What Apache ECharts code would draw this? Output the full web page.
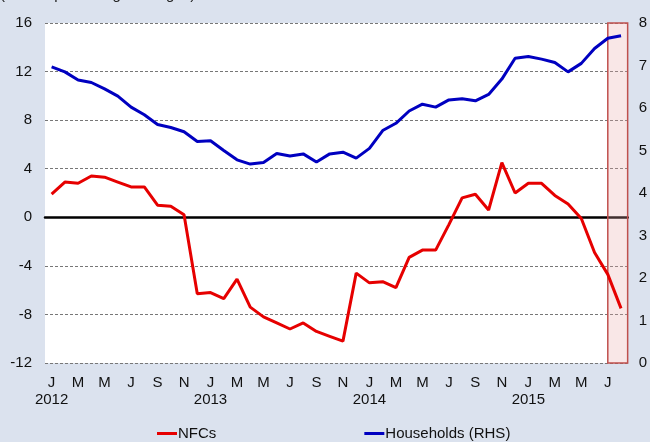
<!DOCTYPE html>
<html>
<head>
<meta charset="utf-8">
<script src="https://cdn.jsdelivr.net/npm/echarts@6/dist/echarts.min.js"></script>
<style>
  html, body { margin: 0; padding: 0; background: #dbe2ee; }
  #main { width: 650px; height: 442px; }
</style>
</head>
<body>
<div id="main"></div>
<script>
// monthly, Jan 2012 - Aug 2015
var months = [];
for (var y = 2012; y <= 2015; y++) {
  for (var m = 1; m <= 12; m++) {
    if (y === 2015 && m > 8) break;
    months.push(y + '-' + (m < 10 ? '0' + m : m));
  }
}
var monthLetters = ['J', 'F', 'M', 'A', 'M', 'J', 'J', 'A', 'S', 'O', 'N', 'D'];

// NFCs, left axis
var nfcs = [
  1.9, 2.9, 2.8, 3.4, 3.3, 2.9, 2.5, 2.5, 1.0, 0.9, 0.2, -6.3,
  -6.2, -6.7, -5.1, -7.4, -8.2, -8.7, -9.2, -8.7, -9.4, -9.8, -10.2, -4.6,
  -5.4, -5.3, -5.8, -3.3, -2.7, -2.7, -0.6, 1.6, 1.9, 0.6, 4.5, 2.0,
  2.8, 2.8, 1.8, 1.1, -0.1, -2.9, -4.7, -7.5
];
// Households, right axis
var households = [
  6.97, 6.85, 6.66, 6.60, 6.45, 6.28, 6.02, 5.84, 5.61, 5.54, 5.44, 5.21,
  5.23, 5.00, 4.78, 4.68, 4.72, 4.93, 4.87, 4.92, 4.73, 4.92, 4.96, 4.82,
  5.05, 5.47, 5.64, 5.93, 6.09, 6.02, 6.19, 6.22, 6.17, 6.32, 6.68, 7.17,
  7.21, 7.15, 7.07, 6.85, 7.05, 7.40, 7.64, 7.70
];

// shaded period: from Jul 2015 to the end of the axis
var shadeFrom = months.indexOf('2015-07') + 0.5;
var shadeTo = months.length;

var chart = echarts.init(document.getElementById('main'));
var font = '"Liberation Sans", Arial, sans-serif';

var option = {
  backgroundColor: '#dbe2ee',
  animation: false,
  textStyle: { fontFamily: font },
  title: {
    text: '(annual percentage changes)',
    left: 0,
    top: -13,
    padding: 0,
    textStyle: { fontSize: 15, fontWeight: 'normal', color: '#222', fontFamily: font }
  },
  grid: {
    left: 45, right: 19, top: 23, bottom: 79,
    show: true, backgroundColor: '#fff', borderWidth: 0
  },
  legend: {
    bottom: -4,
    left: 152,
    itemGap: 148,
    itemWidth: 20,
    itemHeight: 3,
    icon: 'rect',
    textStyle: { fontSize: 15, color: '#111', fontFamily: font, padding: [0, 0, 0, -4] },
    data: ['NFCs', 'Households (RHS)']
  },
  xAxis: [{
    type: 'category',
    data: months,
    boundaryGap: true,
    axisLine: { show: true, onZero: true, lineStyle: { color: '#000', width: 2.5 } },
    axisTick: { show: false },
    axisLabel: {
      interval: 1,
      margin: 11,
      fontSize: 15,
      lineHeight: 17,
      color: '#111',
      fontFamily: font,
      verticalAlign: 'top',
      formatter: function (v) {
        var parts = v.split('-');
        var mi = parseInt(parts[1], 10) - 1;
        return mi === 0 ? monthLetters[mi] + '\n' + parts[0] : monthLetters[mi];
      }
    },
    splitLine: { show: false }
  }, {
    type: 'value',
    min: 0,
    max: months.length,
    show: false
  }],
  yAxis: [{
    type: 'value',
    min: -12, max: 16, interval: 4,
    axisLine: { show: false },
    axisTick: { show: false },
    axisLabel: { fontSize: 15, color: '#111', margin: 13, fontFamily: font },
    splitLine: { show: true, lineStyle: { color: '#777', type: [3, 2], width: 1 } }
  }, {
    type: 'value',
    min: 0, max: 8, interval: 1,
    position: 'right',
    alignTicks: false,
    axisLine: { show: false },
    axisTick: { show: false },
    axisLabel: { fontSize: 15, color: '#111', margin: 11, fontFamily: font },
    splitLine: { show: false }
  }],
  series: [{
    name: 'NFCs',
    type: 'line',
    data: nfcs,
    yAxisIndex: 0,
    showSymbol: false,
    symbol: 'none',
    color: '#e60000',
    lineStyle: { width: 3, color: '#e60000' },
    z: 3
  }, {
    name: 'Households (RHS)',
    type: 'line',
    data: households,
    yAxisIndex: 1,
    showSymbol: false,
    symbol: 'none',
    color: '#0000c0',
    lineStyle: { width: 3, color: '#0000c0' },
    z: 3
  }, {
    name: 'shade',
    type: 'line',
    xAxisIndex: 1,
    yAxisIndex: 0,
    data: [],
    z: 10,
    markArea: {
      silent: true,
      itemStyle: {
        color: 'rgba(235, 170, 170, 0.28)',
        borderColor: '#c0504d',
        borderWidth: 1.5
      },
      data: [[{ xAxis: shadeFrom }, { xAxis: shadeTo }]]
    }
  }]
};

chart.setOption(option);
window.addEventListener('resize', function () { chart.resize(); });
</script>
</body>
</html>
